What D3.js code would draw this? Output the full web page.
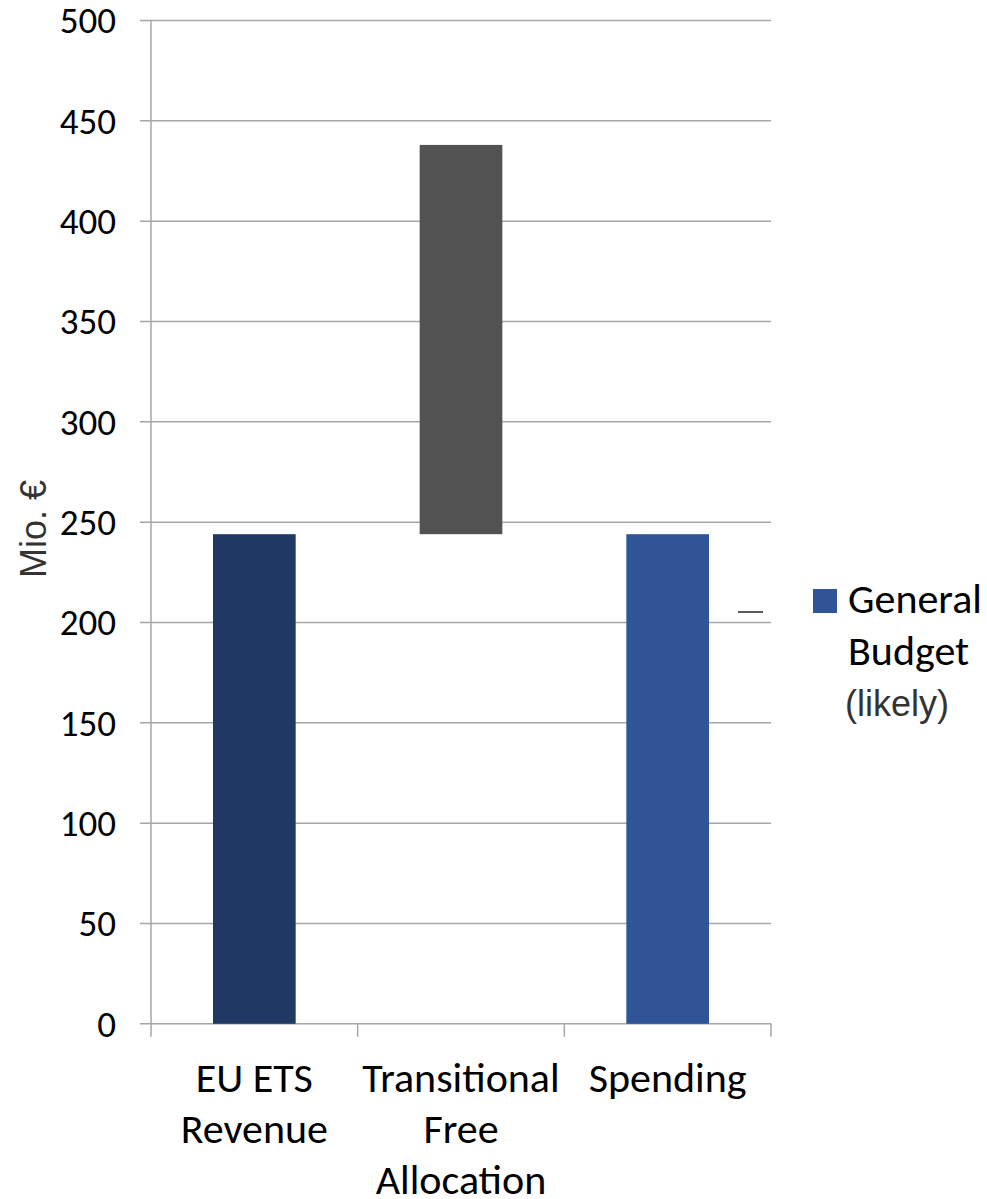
<!DOCTYPE html>
<html>
<head>
<meta charset="utf-8">
<script src="https://cdn.jsdelivr.net/npm/d3@7"></script>
<style>
  body { margin: 0; background: #fff; }
  svg { display: block; }
</style>
</head>
<body>
<div id="chart"></div>
<script>
const categories = ["EU ETS Revenue", "Transitional Free Allocation", "Spending"];
const categoryLines = [["EU ETS", "Revenue"], ["Transitional", "Free", "Allocation"], ["Spending"]];
const barStart = [0, 244, 0];
const barEnd = [244, 438, 244];
const barColors = ["#203864", "#525252", "#2f5597"];
const yTicks = [0, 50, 100, 150, 200, 250, 300, 350, 400, 450, 500];
const legendLabel = ["General", "Budget"];
const legendNote = "(likely)";

const width = 987, height = 1199;
const main = "Carlito, Calibri, 'Liberation Sans Narrow', 'Open Sans', sans-serif";
const arial = "'Liberation Sans', Arial, sans-serif";

const svg = d3.select("#chart").append("svg")
  .attr("width", width)
  .attr("height", height);

const x = d3.scaleBand()
  .domain(categories)
  .range([151, 771])
  .paddingInner(0.6)
  .paddingOuter(0.3);

const y = d3.scaleLinear()
  .domain([0, 500])
  .range([1023.8, 20.5]);

// gridlines + y ticks
svg.append("g")
  .selectAll("line")
  .data(yTicks)
  .join("line")
    .attr("x1", 140)
    .attr("x2", 771)
    .attr("y1", d => y(d))
    .attr("y2", d => y(d))
    .attr("stroke", "#a6a6a6")
    .attr("stroke-width", 1.5);

svg.append("g")
  .selectAll("text")
  .data(yTicks)
  .join("text")
    .attr("x", 116)
    .attr("y", d => y(d))
    .attr("dy", "0.35em")
    .attr("text-anchor", "end")
    .attr("font-family", main)
    .attr("font-size", 37)
    .attr("fill", "#000")
    .text(d => d);

// y axis line
svg.append("line")
  .attr("x1", 151).attr("x2", 151)
  .attr("y1", y(500)).attr("y2", y(0))
  .attr("stroke", "#a6a6a6")
  .attr("stroke-width", 1.5);

// x category boundary ticks
const step = x.step();
const bounds = d3.range(categories.length + 1).map(i => x.range()[0] + i * step);
svg.append("g")
  .selectAll("line")
  .data(bounds)
  .join("line")
    .attr("x1", d => d).attr("x2", d => d)
    .attr("y1", y(0)).attr("y2", y(0) + 13)
    .attr("stroke", "#a6a6a6")
    .attr("stroke-width", 1.5);

// bars
svg.append("g")
  .selectAll("rect")
  .data(categories)
  .join("rect")
    .attr("x", d => x(d))
    .attr("width", x.bandwidth())
    .attr("y", (d, i) => y(barEnd[i]))
    .attr("height", (d, i) => y(barStart[i]) - y(barEnd[i]))
    .attr("fill", (d, i) => barColors[i]);

// category labels
const lab = svg.append("g")
  .selectAll("text")
  .data(categories)
  .join("text")
    .attr("text-anchor", "middle")
    .attr("font-family", main)
    .attr("font-size", 42)
    .attr("fill", "#000");

lab.selectAll("tspan")
  .data((d, i) => categoryLines[i].map(t => ({ t, c: d })))
  .join("tspan")
    .attr("x", d => x(d.c) + x.bandwidth() / 2)
    .attr("y", (d, j) => 1092 + j * 51)
    .text(d => d.t);

// axis title
svg.append("text")
  .attr("transform", "translate(46,529) rotate(-90)")
  .attr("text-anchor", "middle")
  .attr("font-family", arial)
  .attr("font-size", 36)
  .attr("fill", "#333")
  .text("Mio. €");

// small dash left of legend
svg.append("line")
  .attr("x1", 738).attr("x2", 763)
  .attr("y1", 612).attr("y2", 612)
  .attr("stroke", "#595959")
  .attr("stroke-width", 2);

// legend
const legend = svg.append("g");
legend.append("rect")
  .attr("x", 813).attr("y", 589)
  .attr("width", 24).attr("height", 24)
  .attr("fill", barColors[2]);

legend.selectAll("text.lbl")
  .data(legendLabel)
  .join("text")
    .attr("class", "lbl")
    .attr("x", 848)
    .attr("y", (d, i) => 613 + i * 52)
    .attr("font-family", main)
    .attr("font-size", 42)
    .attr("fill", "#000")
    .text(d => d);

legend.append("text")
  .attr("x", 845)
  .attr("y", 716)
  .attr("font-family", arial)
  .attr("font-size", 36)
  .attr("fill", "#333")
  .text(legendNote);
</script>
</body>
</html>
